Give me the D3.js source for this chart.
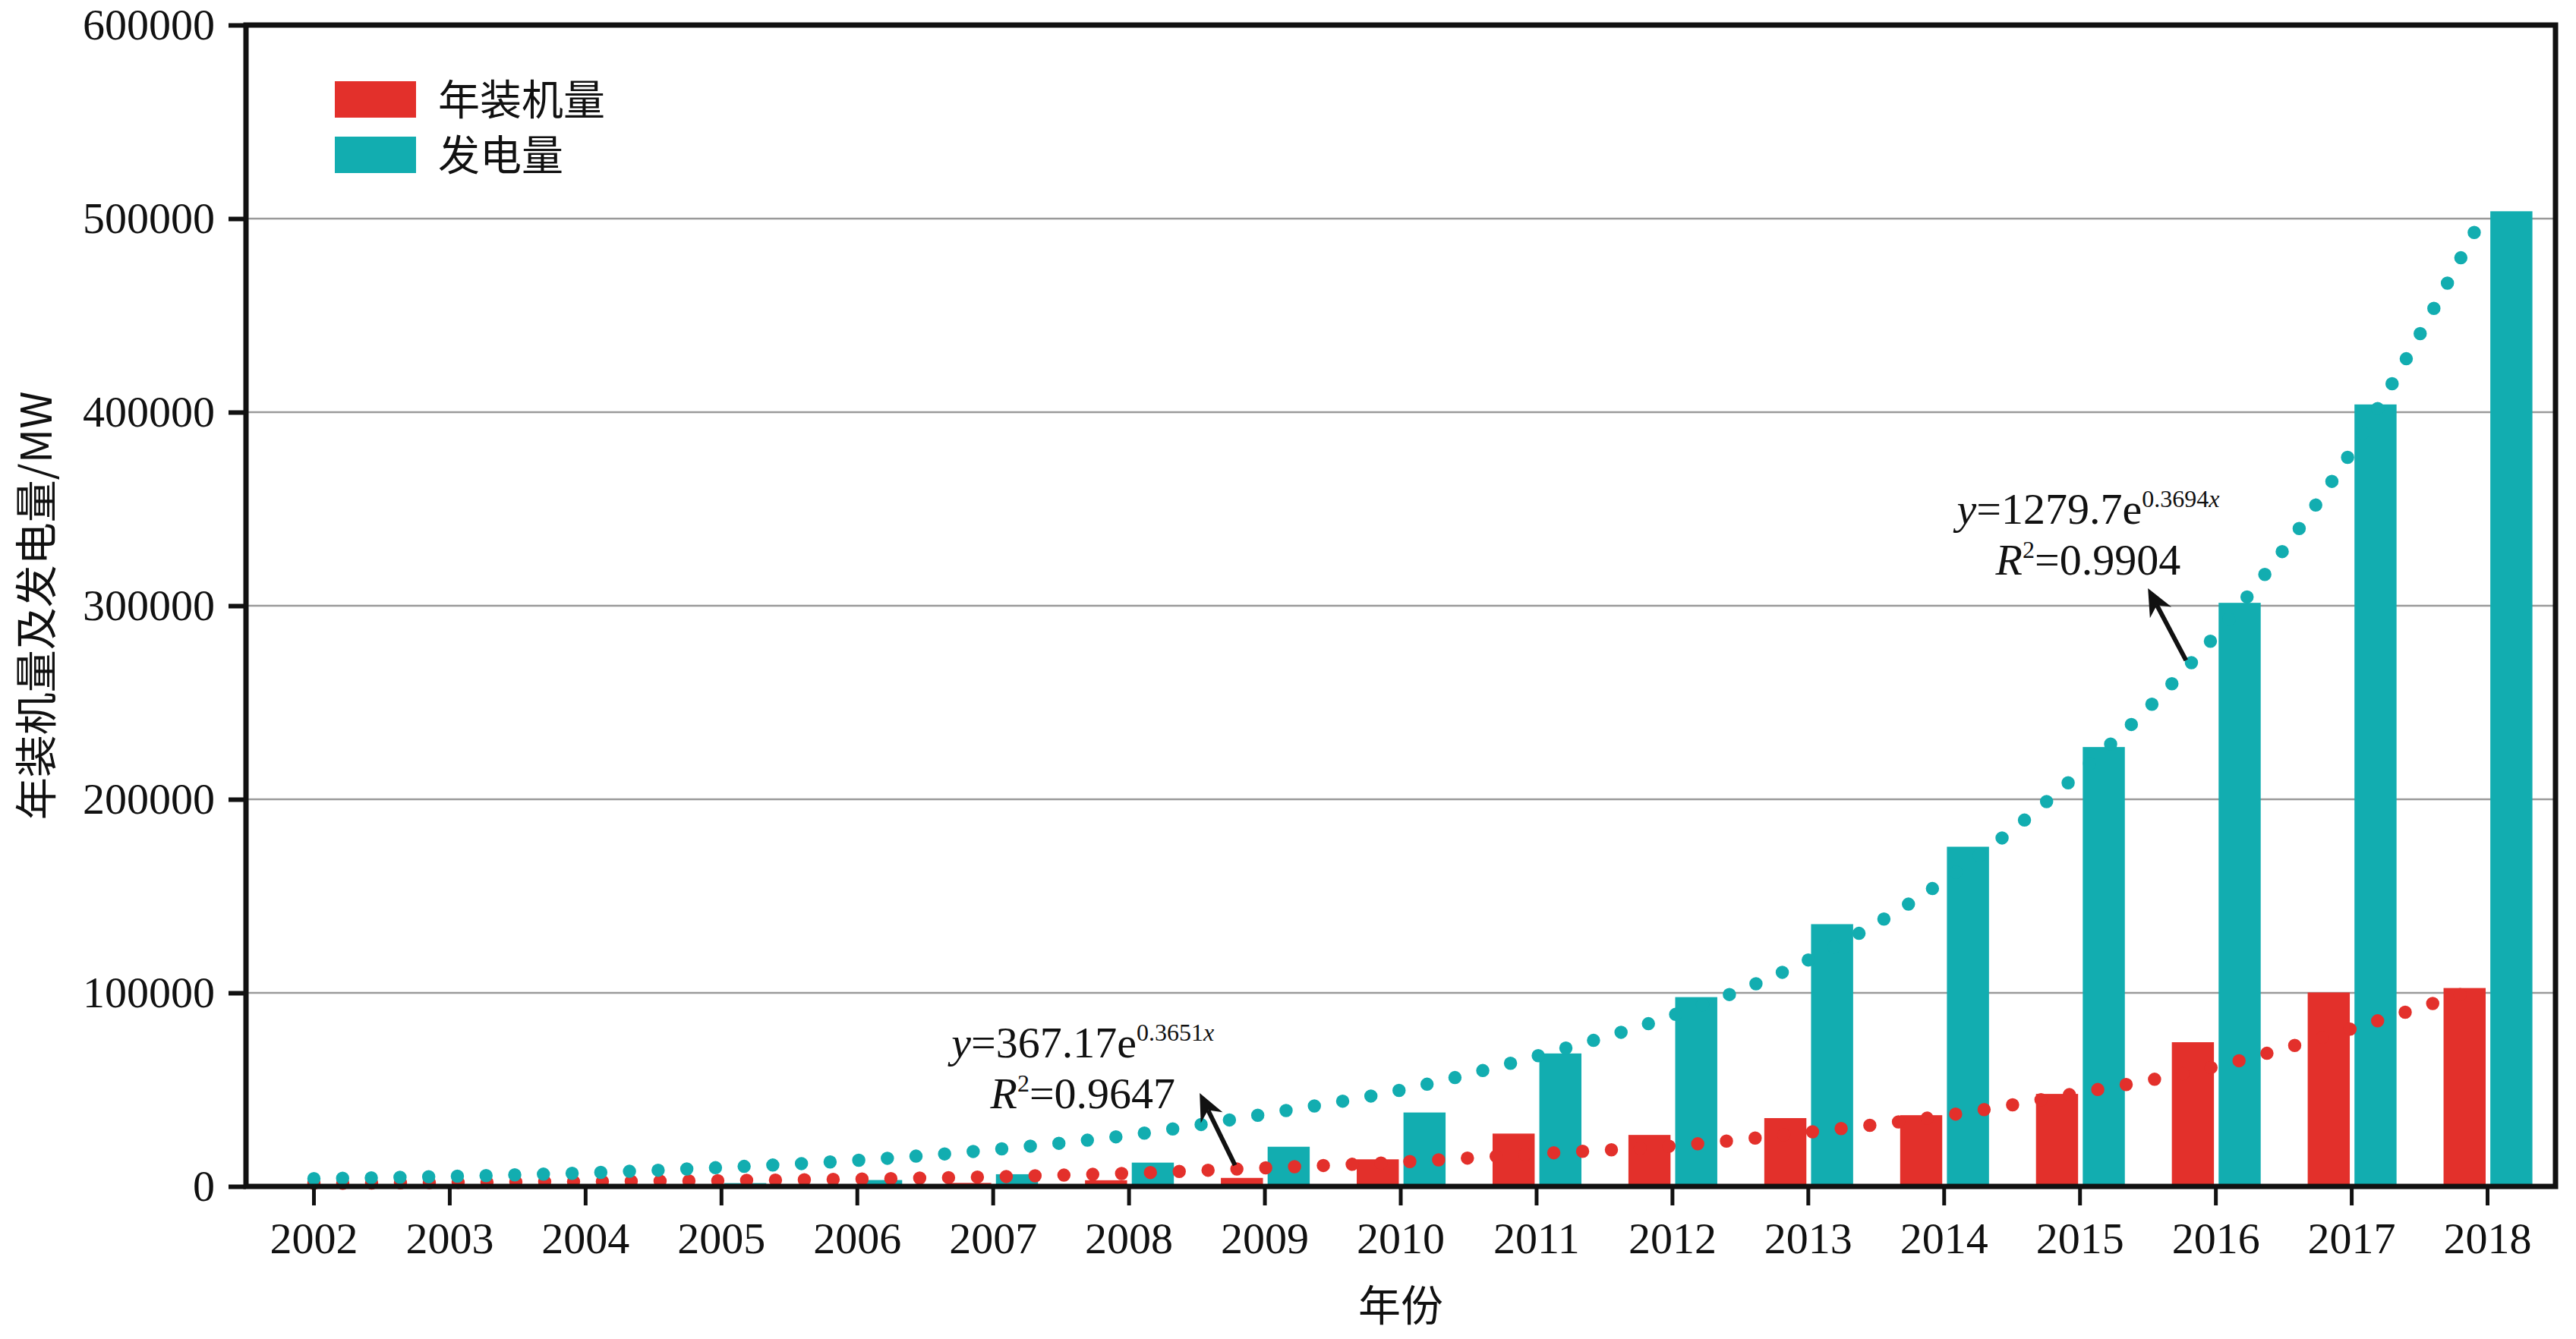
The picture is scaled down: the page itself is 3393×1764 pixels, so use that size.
<!DOCTYPE html>
<html>
<head>
<meta charset="utf-8">
<script src="https://cdn.jsdelivr.net/npm/d3@7/dist/d3.min.js"></script>
<style>
  html, body { margin: 0; padding: 0; background: #fff; }
  svg { display: block; }
</style>
</head>
<body>
<svg id="chart" width="3393" height="1764"></svg>
<script>
// values (MW)
var years = [2002, 2003, 2004, 2005, 2006, 2007, 2008, 2009, 2010,
             2011, 2012, 2013, 2014, 2015, 2016, 2017, 2018];

var installed = [200, 300, 500, 800, 1000, 1800, 3200, 4400, 14000,
                 27300, 26600, 35300, 36800, 47800, 74500, 100200, 102500];

var generation = [400, 600, 900, 1700, 3300, 6300, 12300, 20500, 38200,
                  68700, 97800, 135500, 175500, 227000, 301500, 404000, 503800];

// exponential trend lines, sampled at each year from the dotted curves
var trendInstalled = [1600, 2000, 2500, 3000, 3800, 5000, 6800, 9600, 12600,
                      16900, 20900, 28000, 36500, 48400, 62000, 81500, 103700];

var trendGeneration = [4000, 5200, 7000, 9800, 13500, 19000, 26500, 37400, 49800,
                       67300, 88300, 117000, 158000, 214000, 285000, 380000, 506000];

var yTicks = [0, 100000, 200000, 300000, 400000, 500000, 600000];

var seriesNames = ["年装机量", "发电量"];
var colors = ["#e3302b", "#12adb0"];

var serif = "'Liberation Serif', 'Times New Roman', serif",
    cjk = "'Noto Sans CJK SC', sans-serif";

// note: "top" is taken by window.top, so use plot* names
var plotLeft = 324, plotRight = 3366, plotTop = 33, plotBottom = 1563;

var svg = d3.select("#chart");

var x = d3.scaleBand()
    .domain(years)
    .range([plotLeft, plotRight]);

var xs = d3.scaleBand()
    .domain([0, 1])
    .range([x.bandwidth() * 0.176, x.bandwidth() * 0.83])
    .paddingInner(0.1);

var xc = function(d) { return x(d) + x.bandwidth() / 2; };

// fractional years for the annotations
var xLin = d3.scaleLinear()
    .domain([years[0] - 0.5, years[years.length - 1] + 0.5])
    .range([plotLeft, plotRight]);

var y = d3.scaleLinear()
    .domain([0, 600000])
    .range([plotBottom, plotTop]);

// grid
svg.append("g")
  .selectAll("line")
  .data(yTicks.slice(1, -1))
  .enter().append("line")
    .attr("x1", plotLeft)
    .attr("x2", plotRight)
    .attr("y1", function(d) { return y(d); })
    .attr("y2", function(d) { return y(d); })
    .attr("stroke", "#9a9a9a")
    .attr("stroke-width", 2.5);

// bars
var table = years.map(function(yr, i) {
  return { year: yr, values: [installed[i], generation[i]] };
});

svg.append("g")
  .selectAll("g")
  .data(table)
  .enter().append("g")
    .attr("transform", function(d) { return "translate(" + x(d.year) + ",0)"; })
  .selectAll("rect")
  .data(function(d) { return d.values; })
  .enter().append("rect")
    .attr("x", function(d, i) { return xs(i); })
    .attr("width", xs.bandwidth())
    .attr("y", function(d) { return y(d); })
    .attr("height", function(d) { return y(0) - y(d); })
    .attr("fill", function(d, i) { return colors[i]; });

// dotted trend lines
var line = d3.line()
    .x(function(d) { return xc(d.year); })
    .y(function(d) { return y(d.v); })
    .curve(d3.curveMonotoneX);

[trendInstalled, trendGeneration].forEach(function(tr, k) {
  var path = svg.append("path")
      .datum(years.map(function(yr, i) { return { year: yr, v: tr[i] }; }))
      .attr("d", line)
      .attr("fill", "none")
      .attr("stroke", colors[k])
      .attr("stroke-width", 17.5)
      .attr("stroke-linecap", "round");

  // space the dots so that one lands on each end of the curve
  var len = path.node().getTotalLength(),
      gap = len / Math.round(len / 38);
  path.attr("stroke-dasharray", "0 " + gap);
});

// frame
svg.append("rect")
    .attr("x", plotLeft)
    .attr("y", plotTop)
    .attr("width", plotRight - plotLeft)
    .attr("height", plotBottom - plotTop)
    .attr("fill", "none")
    .attr("stroke", "#111")
    .attr("stroke-width", 7);

// axes
var yAxis = svg.append("g")
    .attr("transform", "translate(" + plotLeft + ",0)")
    .call(d3.axisLeft(y).tickValues(yTicks).tickSize(23).tickPadding(18)
      .tickFormat(d3.format("d")));
yAxis.select(".domain").remove();
yAxis.selectAll(".tick line").attr("stroke", "#111").attr("stroke-width", 6);
yAxis.selectAll(".tick text")
    .attr("font-family", serif)
    .attr("font-size", 58)
    .attr("fill", "#111");

var xAxis = svg.append("g")
    .attr("transform", "translate(0," + plotBottom + ")")
    .call(d3.axisBottom(x).tickSize(25).tickPadding(22));
xAxis.select(".domain").remove();
xAxis.selectAll(".tick line").attr("stroke", "#111").attr("stroke-width", 5);
xAxis.selectAll(".tick text")
    .attr("font-family", serif)
    .attr("font-size", 58)
    .attr("fill", "#111");

// axis titles
svg.append("text")
    .attr("x", (plotLeft + plotRight) / 2)
    .attr("y", 1740)
    .attr("text-anchor", "middle")
    .attr("font-family", cjk)
    .attr("font-size", 56)
    .attr("fill", "#111")
    .text("年份");

svg.append("text")
    .attr("transform", "translate(68," + (plotTop + plotBottom) / 2 + ") rotate(-90)")
    .attr("text-anchor", "middle")
    .attr("font-family", cjk)
    .attr("font-size", 56)
    .attr("fill", "#111")
    .text("年装机量及发电量/MW");

// legend
var legend = svg.append("g")
  .selectAll("g")
  .data(seriesNames)
  .enter().append("g")
    .attr("transform", function(d, i) { return "translate(441," + (107 + i * 73) + ")"; });

legend.append("rect")
    .attr("width", 107)
    .attr("height", 48)
    .attr("fill", function(d, i) { return colors[i]; });

legend.append("text")
    .attr("x", 136)
    .attr("y", 24)
    .attr("dy", "0.36em")
    .attr("font-family", cjk)
    .attr("font-size", 55)
    .attr("fill", "#111")
    .text(function(d) { return d; });

// trend equations
var notes = [
  { coef: "367.17", exp: "0.3651", r2: "0.9647",
    cx: 2007.66, base1: 66700, base2: 40400,
    tail: [2008.78, 11000], tip: [2008.52, 48200] },
  { coef: "1279.7", exp: "0.3694", r2: "0.9904",
    cx: 2015.06, base1: 342400, base2: 316100,
    tail: [2015.78, 271800], tip: [2015.50, 309000] }
];

notes.forEach(function(n) {
  var g = svg.append("g")
      .attr("font-family", serif)
      .attr("fill", "#111");

  var t1 = g.append("text")
      .attr("x", xLin(n.cx))
      .attr("y", y(n.base1))
      .attr("text-anchor", "middle")
      .attr("font-size", 58);
  t1.append("tspan").attr("font-style", "italic").text("y");
  t1.append("tspan").text("=" + n.coef + "e");
  t1.append("tspan").attr("font-size", 32).attr("dy", -22).text(n.exp);
  t1.append("tspan").attr("font-size", 32).attr("font-style", "italic").text("x");

  var t2 = g.append("text")
      .attr("x", xLin(n.cx))
      .attr("y", y(n.base2))
      .attr("text-anchor", "middle")
      .attr("font-size", 58);
  t2.append("tspan").attr("font-style", "italic").text("R");
  t2.append("tspan").attr("font-size", 32).attr("dy", -22).text("2");
  t2.append("tspan").attr("dy", 22).text("=" + n.r2);

  // arrow
  var x0 = xLin(n.tail[0]), y0 = y(n.tail[1]),
      x1 = xLin(n.tip[0]), y1 = y(n.tip[1]);
  var ang = Math.atan2(y1 - y0, x1 - x0),
      len = 36, wid = 16, back = 25;
  var ux = Math.cos(ang), uy = Math.sin(ang);
  g.append("line")
      .attr("x1", x0).attr("y1", y0)
      .attr("x2", x1 - ux * back).attr("y2", y1 - uy * back)
      .attr("stroke", "#111")
      .attr("stroke-width", 6);
  var p = [
    [x1, y1],
    [x1 - ux * len - uy * wid, y1 - uy * len + ux * wid],
    [x1 - ux * back, y1 - uy * back],
    [x1 - ux * len + uy * wid, y1 - uy * len - ux * wid]
  ];
  g.append("path")
      .attr("d", "M" + p.map(function(q) { return q.join(","); }).join("L") + "Z")
      .attr("fill", "#111");
});
</script>
</body>
</html>
